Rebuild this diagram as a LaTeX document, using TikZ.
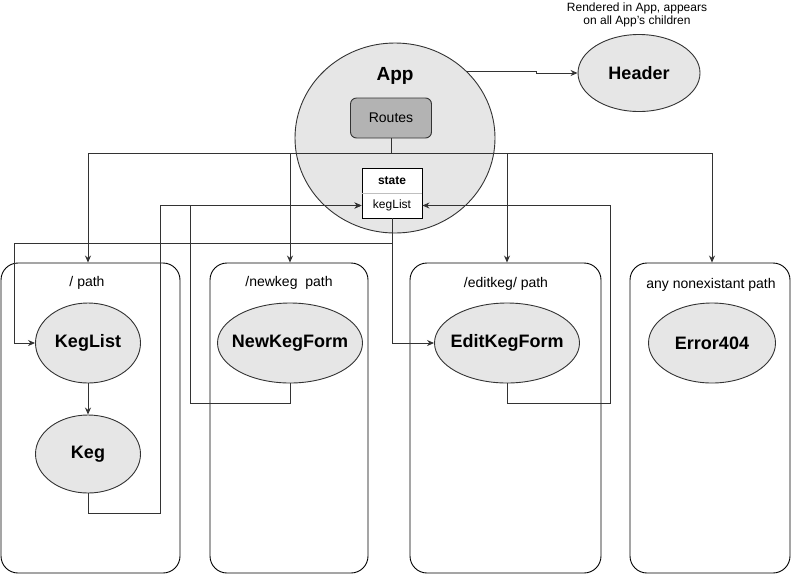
\documentclass[tikz,border=0pt]{standalone}
\usepackage{xcolor}
\usepackage{fontspec}
\setmainfont{Liberation Sans}
\usepackage{tikz}
\usetikzlibrary{shapes, positioning, calc, arrows.meta}

\definecolor{compgrey}{HTML}{E6E6E6}
\definecolor{routegrey}{HTML}{B3B3B3}
\definecolor{linegrey}{HTML}{333333}

\tikzset{
	comp/.style={ellipse, draw=linegrey, fill=compgrey, inner sep=0pt, font=\fontsize{18}{20}\selectfont\bfseries},
	wide/.style={inner xsep=-10pt},
	pathbox/.style={draw=black, rounded corners=17pt, inner sep=0pt, minimum height=310pt},
	pathtext/.style={font=\fontsize{14}{16}\selectfont},
	cell/.style={draw=black, fill=white, inner sep=0pt, minimum width=60pt, minimum height=25pt, font=\fontsize{12}{14}\selectfont},
	link/.style={draw=linegrey, -{Stealth[length=7pt,width=6pt]}}
}

\begin{document}
\begin{tikzpicture}[x=1pt, y=-1pt, line width=0.9pt]
	\useasboundingbox (0,0) rectangle (791,574);

	% the four routes
	\node [pathbox, minimum width=179pt] (pathA) at (90.5,418) {};
	\node [pathbox, minimum width=158pt] (pathB) at (289,418) {};
	\node [pathbox, minimum width=191pt] (pathC) at (505.5,418) {};
	\node [pathbox, minimum width=160pt] (pathD) at (710,418) {};
	\node [pathtext] (pathAtext) at (87,283) {/ path};
	\node [pathtext] (pathBtext) at (289,283) {/newkeg\ \ path};
	\node [pathtext] (pathCtext) at (506,284) {/editkeg/ path};
	\node [pathtext] (pathDtext) at (711,285) {any nonexistant path};

	% components
	\node [comp, minimum width=200pt, minimum height=190pt] (app) at (395,138) {};
	\node [font=\fontsize{19}{21}\selectfont\bfseries] (apptext) at (395,76) {App};
	\node [comp, minimum width=122pt, minimum height=77pt] (header) at (639,73) {Header};
	\node [align=center, font=\fontsize{12}{13.5}\selectfont] (note) at (637,15) {Rendered in App, appears\\on all App's children};
	\node [comp, minimum width=105pt, minimum height=80pt] (kegl) at (88,343) {KegList};
	\node [comp, minimum width=105pt, minimum height=78pt] (keg) at (88,454) {Keg};
	\node [comp, wide, minimum width=145pt, minimum height=80pt] (newform) at (290,343) {NewKegForm};
	\node [comp, wide, minimum width=145pt, minimum height=80pt] (editform) at (507,343) {EditKegForm};
	\node [comp, minimum width=127pt, minimum height=80pt] (err) at (712,343) {Error404};

	\node [draw=linegrey, fill=routegrey, rounded corners=6pt, minimum width=81pt, minimum height=40pt, font=\fontsize{14}{16}\selectfont] (routes) at (391,118) {Routes};
	\node [cell, font=\fontsize{12}{14}\selectfont\bfseries] (state) at (392,180.5) {state};
	\node [cell] (keglist) at (392,205.5) {kegList};
	\draw [gray!50] (state.south west) -- (state.south east);

	% links
	\draw [link] (app.43) -- ++(70,0) |- (header);
	\foreach \c/\b in {kegl/pathA, newform/pathB, editform/pathC, err/pathD}
	\draw [link] (routes.south) -- ++(0,15) -| (\c |- \b.north);
	\draw [link] (keglist.south) -- ++(0,25) -| ($(kegl.west)+(-21,0)$) -- (kegl.west);
	\draw [link] (keglist.south) |- (editform);
	\draw [link] (kegl) -- (keg);
	\draw [link] (keg.south) -- ++(0,20) -- ++(72,0) |- (keglist);
	\draw [link] (newform.south) -- ++(0,20) -- ++(-100,0) |- (keglist);
	\draw [link] (editform.south) -- ++(0,20) -- ++(103,0) |- (keglist);

\end{tikzpicture}
\end{document}
